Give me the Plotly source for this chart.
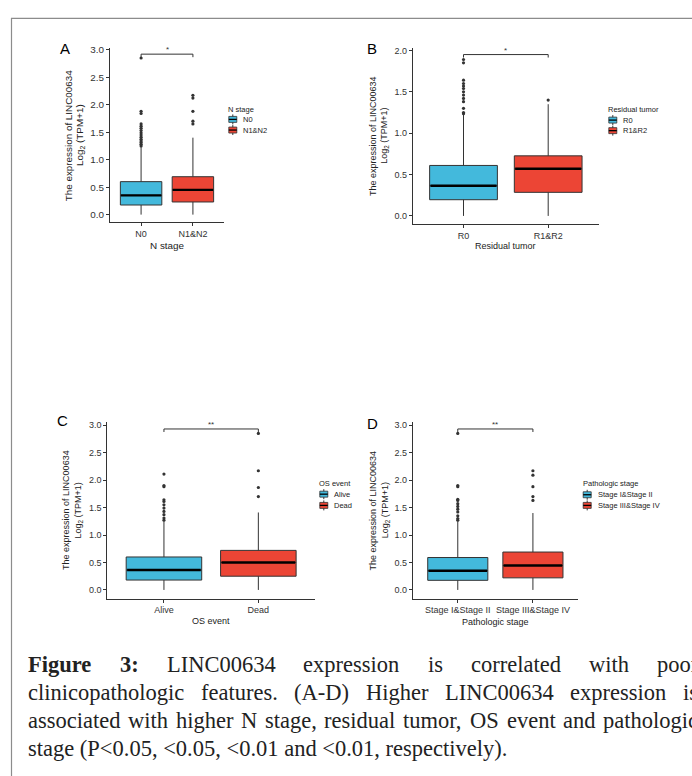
import plotly.graph_objects as go

W, H = 692, 776

# ---------------- data ----------------
A_categories = ["N0", "N1&N2"]
A_q1 = [0.175, 0.23]
A_median = [0.35, 0.45]
A_q3 = [0.60, 0.69]
A_lower = [0.0, 0.0]
A_upper = [1.23, 1.40]
A_outliers_0 = [1.25, 1.28, 1.31, 1.34, 1.37, 1.41, 1.45, 1.49, 1.53, 1.57, 1.61, 1.65, 1.84, 1.88, 2.85]
A_outliers_1 = [1.65, 1.70, 1.88, 2.12, 2.17]
A_sig_y = 2.92
A_sig_label = "*"
A_axis_title = "N stage"

B_categories = ["R0", "R1&R2"]
B_q1 = [0.196, 0.285]
B_median = [0.365, 0.57]
B_q3 = [0.61, 0.726]
B_lower = [0.0, 0.0]
B_upper = [1.23, 1.35]
B_outliers_0 = [1.235, 1.25, 1.30, 1.38, 1.42, 1.46, 1.50, 1.54, 1.57, 1.60, 1.64, 1.85, 1.89]
B_outliers_1 = [1.40]
B_sig_y = 1.95
B_sig_label = "*"
B_axis_title = "Residual tumor"

C_categories = ["Alive", "Dead"]
C_q1 = [0.18, 0.25]
C_median = [0.362, 0.50]
C_q3 = [0.60, 0.72]
C_lower = [0.0, 0.0]
C_upper = [1.25, 1.41]
C_outliers_0 = [1.27, 1.31, 1.37, 1.43, 1.49, 1.55, 1.61, 1.64, 1.88, 1.90, 2.11]
C_outliers_1 = [1.70, 1.865, 2.17, 2.85]
C_sig_y = 2.93
C_sig_label = "**"
C_axis_title = "OS event"

D_categories = ["Stage I&Stage II", "Stage III&Stage IV"]
D_q1 = [0.175, 0.22]
D_median = [0.35, 0.445]
D_q3 = [0.59, 0.69]
D_lower = [0.0, 0.0]
D_upper = [1.25, 1.40]
D_outliers_0 = [1.27, 1.30, 1.35, 1.42, 1.47, 1.52, 1.57, 1.63, 1.65, 1.88, 1.90, 2.85]
D_outliers_1 = [1.63, 1.70, 1.88, 2.09, 2.17]
D_sig_y = 2.93
D_sig_label = "**"
D_axis_title = "Pathologic stage"

panel_letters = ["A", "B", "C", "D"]
ytitle_line1 = "The expression of LINC00634"
ytitle_line2 = "Log<sub>2</sub> (TPM+1)"

caption_lines = [
    [("Figure", True), ("3:", True), ("LINC00634", False), ("expression", False), ("is", False),
     ("correlated", False), ("with", False), ("poor", False)],
    [("clinicopathologic", False), ("features.", False), ("(A-D)", False), ("Higher", False),
     ("LINC00634", False), ("expression", False), ("is", False)],
    [(w, False) for w in "associated with higher N stage, residual tumor, OS event and pathologic".split()],
]
caption_last = "stage (P<0.05, <0.05, <0.01 and <0.01, respectively)."

# ---------------- style ----------------
COLORS = ["#43B9DC", "#EC4535"]
DARK = "#333333"
SANS = "Liberation Sans, Arial, sans-serif"
SERIF = "Liberation Serif, Times New Roman, serif"

panels = [
    dict(cats=A_categories, q1=A_q1, med=A_median, q3=A_q3, lo=A_lower, hi=A_upper,
         outs=[A_outliers_0, A_outliers_1], sig_y=A_sig_y, sig=A_sig_label, xtitle=A_axis_title,
         box=(110, 224, 44, 219.5), yr=(-0.141, 3.036), ticks=[0, 0.5, 1, 1.5, 2, 2.5, 3],
         letter=(65, 45), yt=(68.3, 80), xt_y=243, leg=(227.3, 106, [116, 126.7]), tip=0.055, fs=1.1),
    dict(cats=B_categories, q1=B_q1, med=B_median, q3=B_q3, lo=B_lower, hi=B_upper,
         outs=[B_outliers_0, B_outliers_1], sig_y=B_sig_y, sig=B_sig_label, xtitle=B_axis_title,
         box=(412.7, 599, 44, 221), yr=(-0.096, 2.032), ticks=[0, 0.5, 1, 1.5, 2],
         letter=(372, 44.5), yt=(373.3, 385), xt_y=243.3, leg=(607.3, 106, [116.7, 127.3]), tip=0.036, fs=1.0),
    dict(cats=C_categories, q1=C_q1, med=C_median, q3=C_q3, lo=C_lower, hi=C_upper,
         outs=[C_outliers_0, C_outliers_1], sig_y=C_sig_y, sig=C_sig_label, xtitle=C_axis_title,
         box=(107.3, 315, 420, 597.7), yr=(-0.158, 3.06), ticks=[0, 0.5, 1, 1.5, 2, 2.5, 3],
         letter=(62, 419), yt=(66.7, 78.3), xt_y=620, leg=(318.3, 481.7, [492.7, 504]), tip=0.055, fs=1.0),
    dict(cats=D_categories, q1=D_q1, med=D_median, q3=D_q3, lo=D_lower, hi=D_upper,
         outs=[D_outliers_0, D_outliers_1], sig_y=D_sig_y, sig=D_sig_label, xtitle=D_axis_title,
         box=(412.7, 578, 420, 597.7), yr=(-0.158, 3.06), ticks=[0, 0.5, 1, 1.5, 2, 2.5, 3],
         letter=(372, 421.5), yt=(373.3, 385), xt_y=621, leg=(581.7, 482.3, [493.3, 504]), tip=0.055, fs=1.0),
]


def fx(px):
    return px / W


def fy(py):
    return 1 - py / H


fig = go.Figure()
annotations = []
shapes = []
layout = {}
BW = 0.8

for k, p in enumerate(panels):
    sfx = "" if k == 0 else str(k + 1)
    xa, ya = "x" + sfx, "y" + sfx
    L, R, T, B = p["box"]
    fs = p["fs"]
    for i in range(2):
        fig.add_trace(go.Box(
            x=[i], q1=[p["q1"][i]], median=[p["med"][i]], q3=[p["q3"][i]],
            lowerfence=[p["lo"][i]], upperfence=[p["hi"][i]], width=BW, whiskerwidth=0,
            fillcolor=COLORS[i], line=dict(color=DARK, width=1), boxpoints=False,
            showlegend=False, hoverinfo="skip", xaxis=xa, yaxis=ya))
        fig.add_trace(go.Scatter(
            x=[i - BW / 2 + 0.01, i + BW / 2 - 0.01], y=[p["med"][i]] * 2, mode="lines",
            line=dict(color="black", width=2.4), showlegend=False, hoverinfo="skip",
            xaxis=xa, yaxis=ya))
        outs = p["outs"][i]
        fig.add_trace(go.Scatter(
            x=[i] * len(outs), y=outs, mode="markers",
            marker=dict(size=3.2, color=DARK, line=dict(width=0)),
            showlegend=False, hoverinfo="skip", xaxis=xa, yaxis=ya))
    sy, tip = p["sig_y"], p["tip"]
    fig.add_trace(go.Scatter(
        x=[0, 0, 1, 1], y=[sy - tip, sy, sy, sy - tip], mode="lines",
        line=dict(color=DARK, width=1), showlegend=False, hoverinfo="skip",
        xaxis=xa, yaxis=ya))
    annotations.append(dict(x=0.5, y=sy, xref=xa, yref=ya, text=p["sig"], showarrow=False,
                            yanchor="bottom", yshift=-2, font=dict(family=SANS, size=8, color=DARK)))

    layout["xaxis" + sfx] = dict(
        domain=[fx(L), fx(R)], anchor=ya, range=[-0.6, 1.6], tickvals=[0, 1], ticktext=p["cats"],
        showline=True, linecolor=DARK, linewidth=1, ticks="outside", ticklen=3, tickwidth=1,
        tickcolor=DARK, showgrid=False, zeroline=False,
        tickfont=dict(family=SANS, size=9, color=DARK))
    layout["yaxis" + sfx] = dict(
        domain=[fy(B), fy(T)], anchor=xa, range=list(p["yr"]), tickvals=p["ticks"],
        tickformat=".1f", showline=True, linecolor=DARK, linewidth=1, ticks="outside",
        ticklen=3, tickwidth=1, tickcolor=DARK, showgrid=False, zeroline=False,
        tickfont=dict(family=SANS, size=9 * fs, color=DARK))

    # panel letter
    lx, ly = p["letter"]
    annotations.append(dict(x=fx(lx), y=fy(ly), xref="paper", yref="paper", text=panel_letters[k],
                            showarrow=False, xanchor="center", yanchor="middle",
                            font=dict(family=SANS, size=15, color="black")))
    # y title
    cy = (T + B) / 2
    for tx, txt in zip(p["yt"], [ytitle_line1, ytitle_line2]):
        annotations.append(dict(x=fx(tx), y=fy(cy), xref="paper", yref="paper", text=txt,
                                textangle=-90, showarrow=False, xanchor="center", yanchor="middle",
                                font=dict(family=SANS, size=9 * fs, color="#222222")))
    # x title
    annotations.append(dict(x=fx((L + R) / 2), y=fy(p["xt_y"]), xref="paper", yref="paper",
                            text=p["xtitle"], showarrow=False, xanchor="center", yanchor="middle",
                            font=dict(family=SANS, size=9 * fs, color="#222222")))
    # legend
    gx, gy, entries = p["leg"]
    annotations.append(dict(x=fx(gx - 1), y=fy(gy), xref="paper", yref="paper", text=p["xtitle"],
                            showarrow=False, xanchor="left", yanchor="middle",
                            font=dict(family=SANS, size=7.5, color="#222222")))
    for i, ey in enumerate(entries):
        k0, k1 = gx + 1.5, gx + 9.5
        kc = (k0 + k1) / 2
        shapes.append(dict(type="line", xref="paper", yref="paper", x0=fx(kc), x1=fx(kc),
                           y0=fy(ey - 5), y1=fy(ey + 5), line=dict(color=DARK, width=1)))
        shapes.append(dict(type="rect", xref="paper", yref="paper", x0=fx(k0), x1=fx(k1),
                           y0=fy(ey - 3), y1=fy(ey + 3), fillcolor=COLORS[i],
                           line=dict(color=DARK, width=0.8)))
        shapes.append(dict(type="line", xref="paper", yref="paper", x0=fx(k0), x1=fx(k1),
                           y0=fy(ey), y1=fy(ey), line=dict(color="black", width=1.3)))
        annotations.append(dict(x=fx(gx + 14), y=fy(ey), xref="paper", yref="paper",
                                text=p["cats"][i], showarrow=False, xanchor="left",
                                yanchor="middle", font=dict(family=SANS, size=7.5, color="#222222")))

# ---------------- caption (justified) ----------------
TIMES = {" ": 250, "a": 444, "b": 500, "c": 444, "d": 500, "e": 444, "f": 333, "g": 500, "h": 500,
         "i": 278, "j": 278, "k": 500, "l": 278, "m": 778, "n": 500, "o": 500, "p": 500, "q": 500,
         "r": 333, "s": 389, "t": 278, "u": 500, "v": 500, "w": 722, "x": 500, "y": 500, "z": 444,
         "A": 722, "C": 667, "D": 722, "F": 556, "H": 722, "I": 333, "L": 611, "N": 722, "O": 722,
         "P": 556, "S": 556, ":": 278, ".": 250, ",": 250, "(": 333, ")": 333, "-": 333, "<": 564}
TIMES_BOLD = {"F": 611, "i": 278, "g": 500, "u": 556, "r": 444, "e": 444, "3": 500, ":": 333}
for d in "0123456789":
    TIMES[d] = 500

CAP_SIZE = 22.5
CAP_LEFT, CAP_RIGHT = 27, 697
CAP_Y = [664, 692, 720, 748]


def word_w(word, bold):
    tab = TIMES_BOLD if bold else TIMES
    return sum(tab.get(ch, TIMES.get(ch, 500)) for ch in word) * CAP_SIZE / 1000.0


for li, words in enumerate(caption_lines):
    widths = [word_w(w, b) for w, b in words]
    gap = (CAP_RIGHT - CAP_LEFT - sum(widths)) / (len(words) - 1)
    xpos = CAP_LEFT
    for (w, b), ww in zip(words, widths):
        annotations.append(dict(x=fx(xpos), y=fy(CAP_Y[li]), xref="paper", yref="paper",
                                text=("<b>%s</b>" % w) if b else w, showarrow=False,
                                xanchor="left", yanchor="middle", borderpad=0,
                                font=dict(family=SERIF, size=CAP_SIZE, color="#222222")))
        xpos += ww + gap
annotations.append(dict(x=fx(CAP_LEFT), y=fy(CAP_Y[3]), xref="paper", yref="paper",
                        text=caption_last.replace("<", "&lt;"), showarrow=False,
                        xanchor="left", yanchor="middle", borderpad=0,
                        font=dict(family=SERIF, size=CAP_SIZE, color="#222222")))

# frame around the figure
shapes.append(dict(type="rect", xref="paper", yref="paper", x0=fx(11.5), x1=fx(760),
                   y0=fy(14.5), y1=fy(820), line=dict(color="#8c8c8c", width=1.2),
                   fillcolor="rgba(0,0,0,0)"))

fig.update_layout(
    width=W, height=H, margin=dict(l=0, r=0, t=0, b=0),
    paper_bgcolor="white", plot_bgcolor="white",
    annotations=annotations, shapes=shapes, showlegend=False, boxmode="overlay",
    **layout)

fig.write_html("out.html", config={"displayModeBar": False},
               post_script="document.body.style.margin='0';document.body.style.padding='0';")
